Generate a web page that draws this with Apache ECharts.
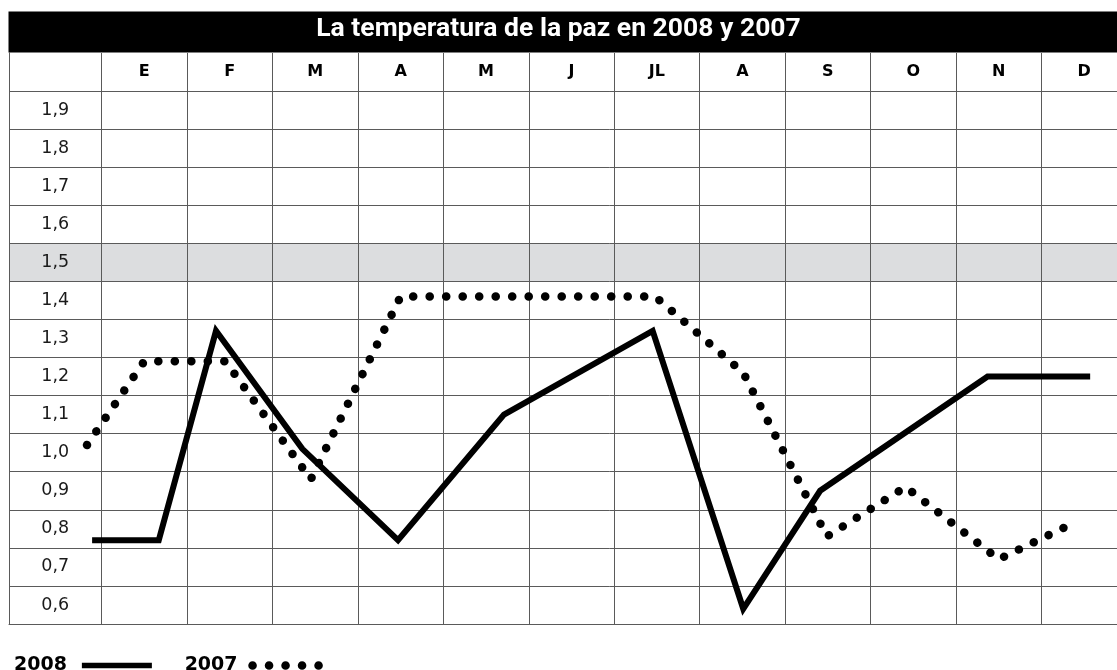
<!DOCTYPE html>
<html><head><meta charset="utf-8">
<script src="https://cdn.jsdelivr.net/npm/echarts@6/dist/echarts.min.js"></script>
<style>html,body{margin:0;padding:0;background:#fff}#c{width:1117px;height:670px}</style>
</head><body><div id="c"></div>
<script>
// ---- data ----
const chartTitle = 'La temperatura de la paz en 2008 y 2007';
const months = ['E','F','M','A','M','J','JL','A','S','O','N','D'];
const rowLabels = ['0,6','0,7','0,8','0,9','1,0','1,1','1,2','1,3','1,4','1,5','1,6','1,7','1,8','1,9'];
const highlightRow = '1,5';
const seriesNames = ['2008', '2007'];
// 2008 (solid): month position (1 = E ... 12 = D, fractional where a vertex sits off-centre) and value
const x2008 = [0.39, 1.17, 1.84, 2.85, 3.97, 5.21, 6.95, 8.01, 8.91, 10.87, 12.07];
const y2008 = [0.77, 0.77, 1.32, 1.01, 0.77, 1.10, 1.32, 0.59, 0.90, 1.20, 1.20];
// 2007 (dotted)
const x2007 = [0.33, 1.00, 1.95, 2.95, 4.00, 6.98, 8.01, 8.99, 9.91, 11.00, 11.92];
const y2007 = [1.02, 1.24, 1.24, 0.93, 1.41, 1.41, 1.21, 0.78, 0.91, 0.72, 0.82];

// ---- layout ----
const frameLeft = 9, labelColW = 92.5, colW = 85.45, gridTop = 91, gridH = 533;
const gridLeft = frameLeft + labelColW;
const num = s => parseFloat(s.replace(',', '.'));
const yMin = num(rowLabels[0]) - 0.05;
const yMax = num(rowLabels[rowLabels.length - 1]) + 0.05;
const gridLine = '#5a5a5a';

const chart = echarts.init(document.getElementById('c'), null, {renderer: 'canvas'});
const option = {
  backgroundColor: '#fff',
  animation: false,
  title: {
    text: chartTitle, left: 'center', top: 16, padding: 0, z: 6,
    textStyle: {color: '#fff', fontFamily: 'Roboto', fontWeight: 'bold', fontSize: 26.5}
  },
  grid: [
    {left: gridLeft, top: gridTop, width: colW * months.length, height: gridH, outerBoundsMode: 'none', containLabel: false},
    {left: frameLeft, top: gridTop, width: labelColW + colW * months.length, height: gridH, outerBoundsMode: 'none', containLabel: false}
  ],
  xAxis: [
    {
      gridIndex: 0, type: 'category', data: months, position: 'top', boundaryGap: true,
      axisLine: {show: true, lineStyle: {color: gridLine, width: 1}},
      axisTick: {show: true, length: 38, lineStyle: {color: gridLine, width: 1}},
      axisLabel: {interval: 0, margin: 19, verticalAlign: 'middle', color: '#000',
        fontFamily: 'DejaVu Sans', fontWeight: 'bold', fontSize: 16},
      splitLine: {show: true, lineStyle: {color: gridLine, width: 1}}
    },
    {
      gridIndex: 1, type: 'value', min: 0.5 - labelColW / colW, max: months.length + 0.5, position: 'bottom',
      axisLine: {show: true, lineStyle: {color: gridLine, width: 1}},
      axisTick: {show: false}, axisLabel: {show: false}, splitLine: {show: false}
    }
  ],
  yAxis: [
    {
      gridIndex: 0, type: 'category', data: rowLabels, position: 'left', boundaryGap: true,
      axisLine: {show: true, lineStyle: {color: gridLine, width: 1}},
      axisTick: {show: true, length: labelColW, lineStyle: {color: gridLine, width: 1}},
      axisLabel: {interval: 0, align: 'center', margin: labelColW / 2, color: '#1a1a1a',
        fontFamily: 'DejaVu Sans', fontSize: 17.5},
      splitLine: {show: true, lineStyle: {color: gridLine, width: 1}}
    },
    {gridIndex: 1, type: 'value', min: yMin, max: yMax, position: 'right', show: false}
  ],
  legend: {
    left: 9, top: 651, orient: 'horizontal', align: 'right',
    itemWidth: 70, itemHeight: 12, itemGap: 30, selectedMode: false,
    itemStyle: {opacity: 0},
    textStyle: {fontFamily: 'DejaVu Sans', fontWeight: 'bold', fontSize: 19, color: '#000', padding: [0, 10, 0, 0]},
    data: [
      {name: seriesNames[0], lineStyle: {width: 5.5}, itemStyle: {opacity: 0}},
      {name: seriesNames[1], lineStyle: {width: 8.5}, itemStyle: {opacity: 0}}
    ]
  },
  series: [
    {
      name: seriesNames[0], type: 'line', xAxisIndex: 1, yAxisIndex: 1,
      data: x2008.map((x, i) => [x, y2008[i]]),
      symbol: 'none', clip: false, silent: true, z: 3,
      lineStyle: {color: '#000', width: 6, join: 'miter', cap: 'butt'},
      itemStyle: {color: '#000'}
    },
    {
      name: seriesNames[1], type: 'line', xAxisIndex: 1, yAxisIndex: 1,
      data: x2007.map((x, i) => [x, y2007[i]]),
      symbol: 'none', clip: false, silent: true, z: 2,
      lineStyle: {color: '#000', width: 8.5, type: [0.1, 16.4], cap: 'round', dashOffset: 0},
      itemStyle: {color: '#000'}
    }
  ]
};
chart.setOption(option);

// decorations computed from the axes
const hv = num(highlightRow);
const bandTop = chart.convertToPixel({yAxisIndex: 1}, hv + 0.05);
const bandBot = chart.convertToPixel({yAxisIndex: 1}, hv - 0.05);
const gBottom = chart.convertToPixel({yAxisIndex: 1}, yMin);
chart.setOption({
  graphic: [
    {type: 'rect', z: -5, silent: true,
     shape: {x: frameLeft, y: bandTop, width: 1200, height: bandBot - bandTop},
     style: {fill: '#dcdddf'}},
    {type: 'rect', z: 1, silent: true,
     shape: {x: frameLeft - 0.5, y: 11.5, width: 1200, height: 41},
     style: {fill: '#000'}},
    {type: 'line', z: 1, silent: true,
     shape: {x1: frameLeft + 0.5, y1: 52, x2: frameLeft + 0.5, y2: gBottom},
     style: {stroke: gridLine, lineWidth: 1}}
  ]
});
</script>
</body></html>
